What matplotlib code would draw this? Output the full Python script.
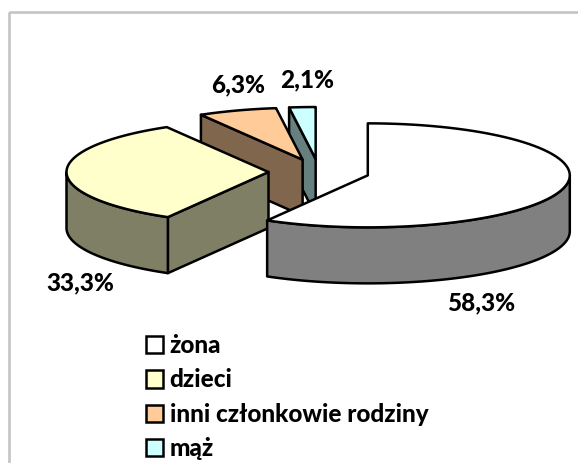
import numpy as np
import matplotlib
matplotlib.use("Agg")
import matplotlib.pyplot as plt
from matplotlib.patches import Polygon, Patch, Rectangle

# chart data
labels = ["żona", "dzieci", "inni członkowie rodziny", "mąż"]
shares = [58.3, 33.3, 6.3, 2.1]
share_labels = ["58,3%", "33,3%", "6,3%", "2,1%"]
top_colors = ["#FFFFFF", "#FFFFCC", "#FFCC99", "#CCFFFF"]
side_colors = ["#808080", "#7F7F66", "#80664D", "#668080"]

# pie geometry, in pixels
cx, cy = 319, 172
rx, ry = 202, 52
depth = 56
explode = 0.25
label_pos = [(481, 303), (80, 283), (238, 85), (307, 80)]
font_size = 17.5


def rim(center, a0, a1, drop=0):
    # points on the ellipse, angles clockwise from 12 o'clock
    t = np.radians(np.linspace(a0, a1, 80))
    return np.column_stack([center[0] + rx * np.sin(t),
                            center[1] - ry * np.cos(t) + drop])


fig = plt.figure(figsize=(5.78, 4.63), dpi=100)
ax = fig.add_axes([0, 0, 1, 1])
ax.set_xlim(0, 578)
ax.set_ylim(463, 0)
ax.axis("off")

# frame runs off the right and bottom of the picture
ax.add_patch(Rectangle((8.5, 11.5), 600, 480, fill=False, ec="#C4C4C4", lw=1.9, zorder=0))

# work out the slices first so they can be painted back to front
edges = np.concatenate([[0], np.cumsum(shares)]) / np.sum(shares) * 360
slices = []
for i in range(len(shares)):
    a0, a1 = edges[i], edges[i + 1]
    mid = np.radians((a0 + a1) / 2)
    center = (cx + explode * rx * np.sin(mid), cy - explode * ry * np.cos(mid))
    slices.append((i, a0, a1, center))

z = 1
for i, a0, a1, center in [slices[3], slices[2], slices[1], slices[0]]:
    # flat cut face, only when it points at the viewer
    if np.sin(np.radians(a0)) < -1e-6:
        edge = np.array([center, rim(center, a0, a0)[0]])
        face = np.vstack([edge, edge[::-1] + [0, depth]])
        ax.add_patch(Polygon(face, fc=side_colors[i], ec="black", lw=1.8, joinstyle="round", zorder=z))
    # outer wall on the front half
    w0, w1 = max(a0, 90), min(a1, 270)
    if w1 > w0:
        wall = np.vstack([rim(center, w0, w1), rim(center, w1, w0, depth)])
        ax.add_patch(Polygon(wall, fc=side_colors[i], ec="black", lw=1.8, joinstyle="round", zorder=z))
    top = np.vstack([[center], rim(center, a0, a1)])
    ax.add_patch(Polygon(top, fc=top_colors[i], ec="black", lw=1.8, joinstyle="round", zorder=z))
    z += 1

for s, (x, y) in zip(share_labels, label_pos):
    ax.text(x, y, s, ha="center", va="center", family="Lato", weight=900, fontsize=font_size, color="black")

handles = [Patch(fc=c, ec="black", lw=1.8) for c in top_colors]
ax.legend(handles, labels, loc="upper left", bbox_to_anchor=(145.5 / 578, 1 - 334 / 463),
          frameon=False, handlelength=0.72, handleheight=0.72, handletextpad=0.27,
          labelspacing=0.47, borderpad=0, borderaxespad=0,
          prop={"family": "Lato", "weight": 900, "size": font_size})

fig.savefig("out.png", dpi=100)
